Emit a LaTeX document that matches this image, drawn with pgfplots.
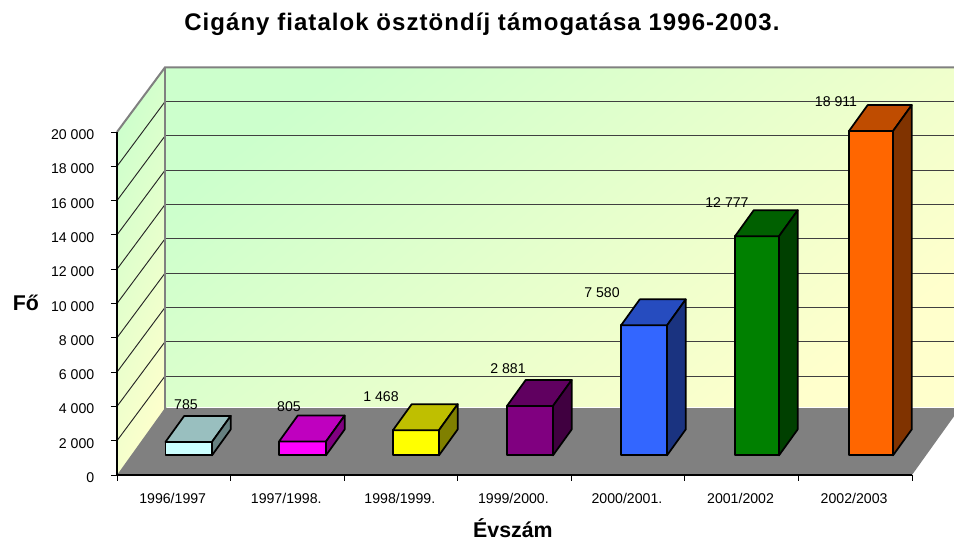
\documentclass[border=0pt]{standalone}
\usepackage{fontspec}
\setmainfont{Liberation Sans}
\usepackage{pgfplots}
\pgfplotsset{compat=1.18}
\definecolor{wallgreen}{HTML}{CCFFCC}
\definecolor{wallyellow}{HTML}{FFFFCC}
\definecolor{floorgray}{HTML}{808080}
\definecolor{c1f}{HTML}{CCFFFF}\definecolor{c1t}{HTML}{99BFBF}\definecolor{c1s}{HTML}{668080}
\definecolor{c2f}{HTML}{FF00FF}\definecolor{c2t}{HTML}{BF00BF}\definecolor{c2s}{HTML}{800080}
\definecolor{c3f}{HTML}{FFFF00}\definecolor{c3t}{HTML}{BFBF00}\definecolor{c3s}{HTML}{808000}
\definecolor{c4f}{HTML}{800080}\definecolor{c4t}{HTML}{600060}\definecolor{c4s}{HTML}{400040}
\definecolor{c5f}{HTML}{3366FF}\definecolor{c5t}{HTML}{264CBF}\definecolor{c5s}{HTML}{1A3380}
\definecolor{c6f}{HTML}{008000}\definecolor{c6t}{HTML}{006000}\definecolor{c6s}{HTML}{004000}
\definecolor{c7f}{HTML}{FF6600}\definecolor{c7t}{HTML}{BF4C00}\definecolor{c7s}{HTML}{803300}
% left edge, right edge, value, front, top, side
\newcommand{\threedbar}[6]{%
  \edef\xa{#1}%
  \edef\xb{#2}%
  \pgfmathsetmacro\xc{#1+0.165}%
  \pgfmathsetmacro\xd{#2+0.165}%
  \edef\ya{1145}%
  \edef\yb{\the\numexpr1145+#3\relax}%
  \edef\yc{\the\numexpr1145+1516\relax}%
  \edef\yd{\the\numexpr1145+#3+1516\relax}%
  \addplot[fill=#4,draw=black,line width=1.3pt,line join=round] coordinates {(\xa,\ya)(\xb,\ya)(\xb,\yb)(\xa,\yb)} --cycle;
  \addplot[fill=#5,draw=black,line width=1.3pt,line join=round] coordinates {(\xa,\yb)(\xb,\yb)(\xd,\yd)(\xc,\yd)} --cycle;
  \addplot[fill=#6,draw=black,line width=1.3pt,line join=round] coordinates {(\xb,\ya)(\xd,\yc)(\xd,\yd)(\xb,\yb)} --cycle;
}
\begin{document}
\begin{tikzpicture}
\path[use as bounding box,clip] (-87.75pt,-49.5pt) rectangle (627.75pt,356.25pt);
\begin{axis}[
  at={(0,0)},anchor=south west,
  scale only axis,width=596.25pt,height=257.25pt,
  xmin=0,xmax=7,ymin=0,ymax=20000,
  clip=false,axis on top,
  axis x line*=bottom,axis y line*=left,
  axis line style={black,line width=0.8pt},
  tick align=outside,
  major tick length=4.5pt,
  tick style={black,line width=0.7pt},
  xtick={0,1,2,3,4,5,6,7},
  x tick label as interval=true,
  xticklabels={1996/1997,1997/1998.,1998/1999.,1999/2000.,2000/2001.,2001/2002,2002/2003},
  ytick={0,2000,...,20000},
  scaled y ticks=false,
  /pgf/number format/.cd,1000 sep={\ },assume math mode=true,
  /pgfplots/.cd,
  tick label style={font=\fontsize{10.6}{12}\selectfont,black},
  yticklabel style={xshift=-9pt,yshift=-2pt},
  xticklabel style={xshift=-0.8pt,yshift=-5.5pt},
  title={Cigány fiatalok ösztöndíj támogatása 1996-2003.},
  title style={at={(0.459,1.29)},anchor=center,font=\fontsize{18}{20}\bfseries\selectfont\addfontfeature{LetterSpace=4.4}},
  xlabel={Évszám},
  xlabel style={at={(0.498,-0.155)},anchor=center,inner sep=0pt,font=\fontsize{16}{17}\bfseries\selectfont},
  ylabel={Fő},
  ylabel style={at={(-0.1145,0.5015)},anchor=center,rotate=-90,font=\fontsize{16}{18}\bfseries\selectfont},
]
% walls
\addplot[left color=wallgreen,right color=wallyellow,shading angle=38,draw=none] coordinates {(0.4226,3767)(7.4226,3767)(7.4226,23767)(0.4226,23767)} --cycle;
\addplot[left color=wallgreen,right color=wallyellow,shading angle=70,draw=none] coordinates {(0,0)(0.4226,3767)(0.4226,23767)(0,20000)} --cycle;
% grid on the side wall
\addplot[black!85,line width=0.7pt] coordinates {(0,2000)(0.4226,5767)};
\addplot[black!85,line width=0.7pt] coordinates {(0,4000)(0.4226,7767)};
\addplot[black!85,line width=0.7pt] coordinates {(0,6000)(0.4226,9767)};
\addplot[black!85,line width=0.7pt] coordinates {(0,8000)(0.4226,11767)};
\addplot[black!85,line width=0.7pt] coordinates {(0,10000)(0.4226,13767)};
\addplot[black!85,line width=0.7pt] coordinates {(0,12000)(0.4226,15767)};
\addplot[black!85,line width=0.7pt] coordinates {(0,14000)(0.4226,17767)};
\addplot[black!85,line width=0.7pt] coordinates {(0,16000)(0.4226,19767)};
\addplot[black!85,line width=0.7pt] coordinates {(0,18000)(0.4226,21767)};
% grid on the back wall
\addplot[black!75,line width=0.75pt] coordinates {(0.4226,5767)(7.4226,5767)};
\addplot[black!75,line width=0.75pt] coordinates {(0.4226,7767)(7.4226,7767)};
\addplot[black!75,line width=0.75pt] coordinates {(0.4226,9767)(7.4226,9767)};
\addplot[black!75,line width=0.75pt] coordinates {(0.4226,11767)(7.4226,11767)};
\addplot[black!75,line width=0.75pt] coordinates {(0.4226,13767)(7.4226,13767)};
\addplot[black!75,line width=0.75pt] coordinates {(0.4226,15767)(7.4226,15767)};
\addplot[black!75,line width=0.75pt] coordinates {(0.4226,17767)(7.4226,17767)};
\addplot[black!75,line width=0.75pt] coordinates {(0.4226,19767)(7.4226,19767)};
\addplot[black!75,line width=0.75pt] coordinates {(0.4226,21767)(7.4226,21767)};
\addplot[floorgray,line width=1.5pt] coordinates {(0,20000)(0.4226,23767)(7.4226,23767)};
\addplot[floorgray,line width=2pt] coordinates {(0.4226,3767)(0.4226,23767)};
% floor
\addplot[fill=floorgray,draw=none] coordinates {(0,0)(7,0)(7.4226,3907)(0.4226,3907)} --cycle;
\addplot[white,line width=0.75pt] coordinates {(0.44,3960)(7.4226,3960)};
% bars
\threedbar{0.427}{0.8365}{785}{c1f}{c1t}{c1s}
\threedbar{1.4265}{1.840}{805}{c2f}{c2t}{c2s}
\threedbar{2.430}{2.835}{1468}{c3f}{c3t}{c3s}
\threedbar{3.434}{3.839}{2881}{c4f}{c4t}{c4s}
\threedbar{4.438}{4.843}{7580}{c5f}{c5t}{c5s}
\threedbar{5.4415}{5.829}{12777}{c6f}{c6t}{c6s}
\threedbar{6.445}{6.833}{18911}{c7f}{c7t}{c7s}
% labels
\addplot[draw=none,mark=none,point meta=explicit symbolic,nodes near coords,
  nodes near coords style={anchor=center,font=\fontsize{10.6}{12}\selectfont,inner sep=0pt,yshift=0pt}]
  coordinates {
  (0.6076,4082)[785]
  (1.5145,3965)[805]
  (2.3246,4548)[1 468]
  (3.4428,6181)[2 881]
  (4.2705,10612)[7 580]
  (5.371,15860)[12 777]
  (6.331,21749)[18 911]
};
\end{axis}
\end{tikzpicture}
\end{document}
